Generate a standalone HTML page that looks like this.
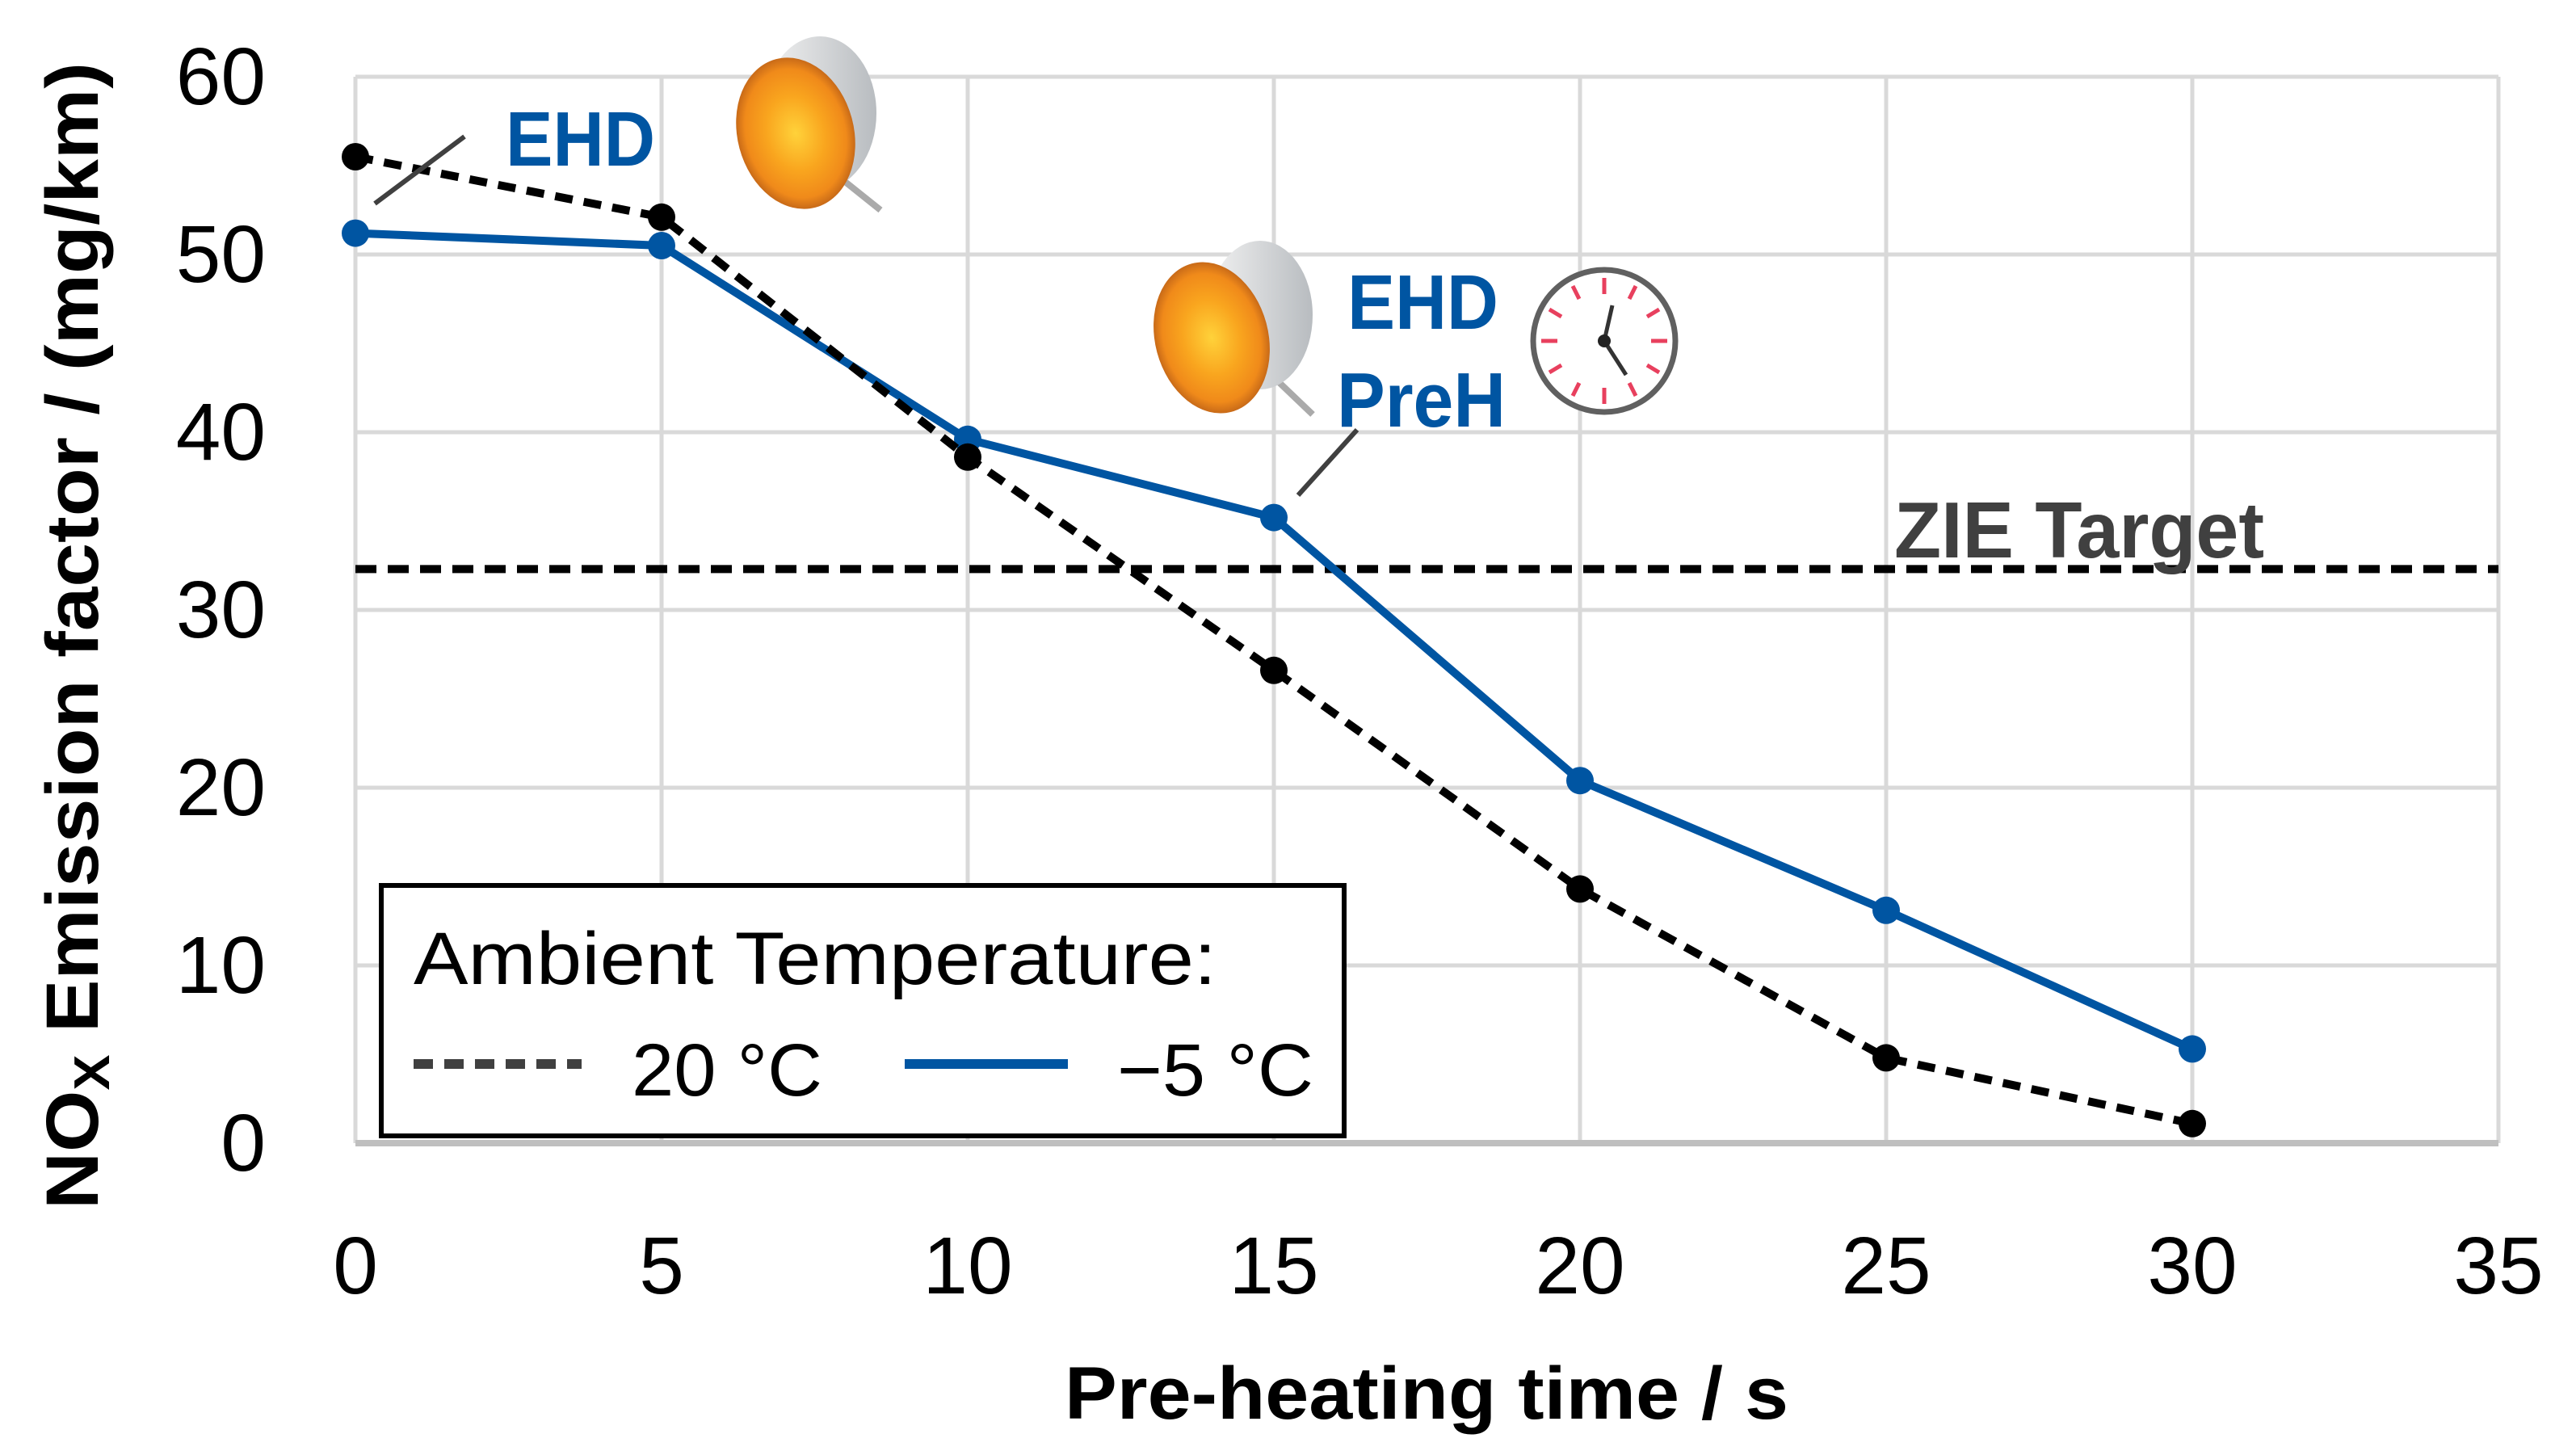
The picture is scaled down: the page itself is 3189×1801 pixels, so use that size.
<!DOCTYPE html>
<html><head><meta charset="utf-8"><style>html,body{margin:0;padding:0;background:#fff}svg{display:block}</style></head>
<body>
<svg id="chart" width="3189" height="1801" viewBox="0 0 3189 1801" xmlns="http://www.w3.org/2000/svg" font-family="'Liberation Sans', sans-serif">
<defs>
<radialGradient id="hot" cx="0.5" cy="0.5" r="0.5"><stop offset="0" stop-color="#ffd23a"/><stop offset="0.5" stop-color="#f9a51e"/><stop offset="0.85" stop-color="#f08a1a"/><stop offset="1" stop-color="#c86a18"/></radialGradient>
<linearGradient id="can" x1="0" x2="1"><stop offset="0" stop-color="#f2f2f2"/><stop offset="1" stop-color="#b8bcc0"/></linearGradient>
</defs>
<g id="grid"></g>
<g id="annot"></g>
<g id="series"></g>
<g id="labels"></g>
<text transform="translate(121,787) rotate(-90)" text-anchor="middle" font-size="92" font-weight="bold" textLength="1420" lengthAdjust="spacingAndGlyphs">NO<tspan font-size="62" dy="14">X</tspan><tspan dy="-14"> Emission factor / (mg/km)</tspan></text>
<text x="1766" y="1756" text-anchor="middle" font-size="92" font-weight="bold" textLength="896" lengthAdjust="spacingAndGlyphs">Pre-heating time / s</text>
<g>
<rect x="472" y="1096" width="1192" height="310" fill="#fff" stroke="#000" stroke-width="6"/>
<text x="512" y="1218" font-size="92" textLength="994" lengthAdjust="spacingAndGlyphs">Ambient Temperature:</text>
<line x1="512" y1="1317" x2="720" y2="1317" stroke="#404040" stroke-width="12" stroke-dasharray="24,14"/>
<text x="782" y="1356" font-size="92" textLength="236" lengthAdjust="spacingAndGlyphs">20 °C</text>
<line x1="1120" y1="1317" x2="1322" y2="1317" stroke="#0055a2" stroke-width="12"/>
<text x="1383" y="1356" font-size="92" textLength="243" lengthAdjust="spacingAndGlyphs">−5 °C</text>
</g>
<script>
const xTicks=[0,5,10,15,20,25,30,35];
const yTicks=[0,10,20,30,40,50,60];
const times=[0,5,10,15,20,25,30];
const nox20=[55.5,52.1,38.6,26.6,14.3,4.8,1.1];
const noxMinus5=[51.2,50.5,39.6,35.2,20.4,13.1,5.3];
const zieTarget=[32.3];
const X0=440,X1=3093,Y0=1415,Y1=95;
function sx(v){return X0+(v-0)/(35-0)*(X1-X0);}
function sy(v){return Y0-(v-0)/(60-0)*(Y0-Y1);}
const NS='http://www.w3.org/2000/svg';
function mk(tag,attrs,parent){const e=document.createElementNS(NS,tag);for(const k in attrs)e.setAttribute(k,attrs[k]);parent.appendChild(e);return e;}
const grid=document.getElementById('grid'),labels=document.getElementById('labels'),series=document.getElementById('series'),annot=document.getElementById('annot');
yTicks.forEach(t=>{
  if(t>0){const l=mk('line',{x1:X0,x2:X1,y1:sy(t),y2:sy(t),stroke:'#d9d9d9','stroke-width':5},grid);
  
  }
  const tx=mk('text',{x:329,y:sy(t)+34,'text-anchor':'end','font-size':100},labels);tx.textContent=t;
  
  
});
xTicks.forEach(t=>{
  const l=mk('line',{x1:sx(t),x2:sx(t),y1:Y1,y2:Y0,stroke:'#d9d9d9','stroke-width':5},grid);
  
  
  const tx=mk('text',{x:sx(t),y:1601,'text-anchor':'middle','font-size':100},labels);tx.textContent=t;
  
  
});
const ax=mk('line',{x1:X0,x2:X1,y1:Y0,y2:Y0,stroke:'#bfbfbf','stroke-width':8},grid);


const zl=mk('line',{x1:X0,x2:X1,y1:sy(zieTarget[0]),y2:sy(zieTarget[0]),stroke:'#000','stroke-width':10,'stroke-dasharray':'26,14'},series);


function drawSeries(vals,color,dash,name){
  const pts=times.map((t,i)=>sx(t)+','+sy(vals[i])).join(' ');
  const pl=mk('polyline',{points:pts,fill:'none',stroke:color,'stroke-width':10,'stroke-dasharray':dash,'stroke-linejoin':'round'},series);
  
  
  times.forEach((t,i)=>{const c=mk('circle',{cx:sx(t),cy:sy(vals[i]),r:17,fill:color},series);
  
  });
}
drawSeries(noxMinus5,'#0055a2','none','series-minus5c');
drawSeries(nox20,'#000','22,14','series-20c');
</script>
<g>
<line x1="464" y1="252" x2="575" y2="169" stroke="#404040" stroke-width="6"/>
<text x="626" y="205" font-size="96" font-weight="bold" fill="#0055a2" textLength="185" lengthAdjust="spacingAndGlyphs">EHD</text>
</g>
<g>
<line x1="1607" y1="613" x2="1680" y2="532" stroke="#404040" stroke-width="6"/>
<text x="1668" y="407" font-size="96" font-weight="bold" fill="#0055a2" textLength="187" lengthAdjust="spacingAndGlyphs">EHD</text>
<text x="1655" y="528" font-size="96" font-weight="bold" fill="#0055a2" textLength="209" lengthAdjust="spacingAndGlyphs">PreH</text>
</g>
<text x="2345" y="690" font-size="98" font-weight="bold" fill="#404040" textLength="458" lengthAdjust="spacingAndGlyphs">ZIE Target</text>
<g>
<line x1="1040" y1="220" x2="1090" y2="260" stroke="#aaa" stroke-width="8"/>
<ellipse cx="1015" cy="140" rx="70" ry="95" fill="url(#can)"/>
<ellipse cx="985" cy="165" rx="72" ry="95" fill="url(#hot)" transform="rotate(-15 985 165)"/>
</g>
<g>
<line x1="1580" y1="470" x2="1625" y2="513" stroke="#aaa" stroke-width="8"/>
<ellipse cx="1560" cy="390" rx="65" ry="92" fill="url(#can)"/>
<ellipse cx="1500" cy="418" rx="70" ry="95" fill="url(#hot)" transform="rotate(-15 1500 418)"/>
</g>
<g>
<circle cx="1986" cy="422" r="88" fill="#fff" stroke="#606060" stroke-width="7"/>
<g stroke="#e8405e" stroke-width="5">
<line x1="1986" y1="344" x2="1986" y2="364"/><line x1="1986" y1="480" x2="1986" y2="500"/>
<line x1="1908" y1="422" x2="1928" y2="422"/><line x1="2044" y1="422" x2="2064" y2="422"/>
<line x1="1947" y1="354" x2="1955" y2="370"/><line x1="2025" y1="354" x2="2017" y2="370"/>
<line x1="1947" y1="490" x2="1955" y2="474"/><line x1="2025" y1="490" x2="2017" y2="474"/>
<line x1="1918" y1="383" x2="1933" y2="392"/><line x1="2054" y1="383" x2="2039" y2="392"/>
<line x1="1918" y1="461" x2="1933" y2="452"/><line x1="2054" y1="461" x2="2039" y2="452"/>
</g>
<line x1="1986" y1="422" x2="1996" y2="378" stroke="#333" stroke-width="5"/>
<line x1="1986" y1="422" x2="2013" y2="464" stroke="#333" stroke-width="5"/>
<circle cx="1986" cy="422" r="8" fill="#222"/>
</g>
</svg>
</body></html>
